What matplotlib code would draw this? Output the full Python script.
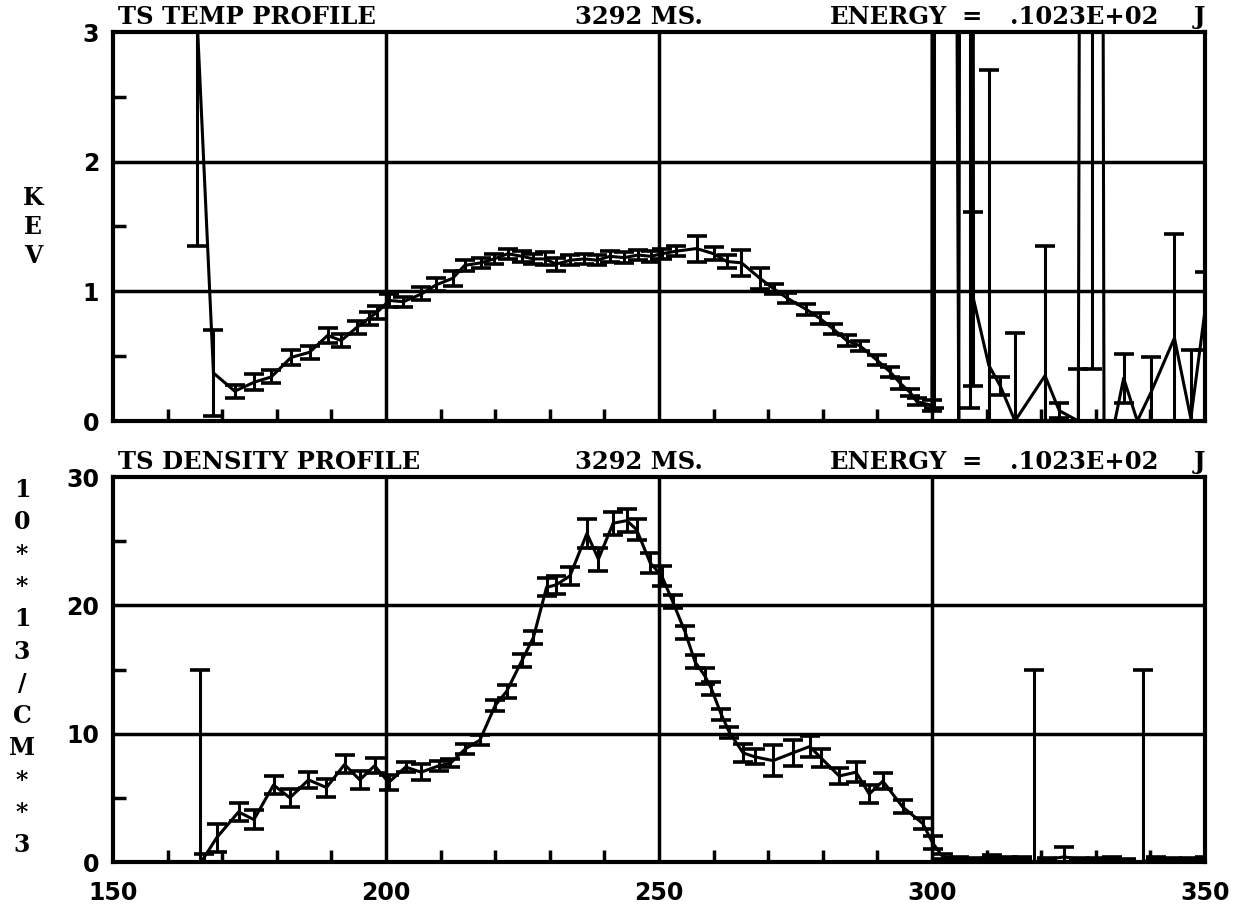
import numpy as np
import matplotlib
matplotlib.use("Agg")
import matplotlib.pyplot as plt

# --- Thomson scattering profiles, shot time 3292 ms ---------------------------
# electron temperature (keV): radius, value, error
temp_r = [165.3, 168.4, 172.3, 175.9, 179.0, 182.6, 186.0, 189.3, 191.8, 194.6,
          196.8, 198.4, 200.6, 203.2, 206.5, 209.2, 212.2, 214.4, 217.4, 219.8,
          222.3, 224.9, 227.0, 229.1, 231.2, 233.7, 236.3, 238.7, 241.0, 243.6,
          246.2, 248.5, 250.5, 253.2, 256.9, 260.0, 262.4, 265.1, 268.5, 271.0,
          273.4, 277.0, 279.5, 281.9, 284.4, 286.8, 289.9, 292.3, 294.2, 296.0,
          297.2, 300.0, 300.3, 304.9, 306.9, 307.6, 310.4, 312.5, 315.2, 320.7,
          323.3, 326.8, 329.3, 331.5, 333.5, 335.1, 337.6, 340.1, 344.4, 347.4,
          350.0]
temp_v = [3.20, 0.37, 0.23, 0.30, 0.34, 0.49, 0.53, 0.66, 0.62, 0.72,
          0.79, 0.84, 0.93, 0.92, 0.98, 1.05, 1.10, 1.20, 1.22, 1.25,
          1.29, 1.27, 1.25, 1.25, 1.21, 1.24, 1.25, 1.24, 1.27, 1.26,
          1.28, 1.27, 1.29, 1.31, 1.33, 1.29, 1.23, 1.22, 1.10, 1.02,
          0.95, 0.86, 0.79, 0.71, 0.62, 0.58, 0.47, 0.38, 0.29, 0.22,
          0.15, 0.12, 45.0, 0.00, 45.0, 0.94, 0.43, 0.27, 0.00, 0.35,
          0.08, 0.00, 45.0, 0.00, 0.00, 0.33, 0.00, 0.22, 0.64, 0.02,
          0.85]
temp_e = [1.85, 0.33, 0.05, 0.06, 0.05, 0.06, 0.05, 0.06, 0.05, 0.05,
          0.05, 0.05, 0.05, 0.04, 0.05, 0.05, 0.06, 0.04, 0.04, 0.04,
          0.04, 0.04, 0.04, 0.05, 0.05, 0.04, 0.04, 0.04, 0.04, 0.04,
          0.04, 0.04, 0.04, 0.04, 0.10, 0.05, 0.05, 0.10, 0.08, 0.04,
          0.04, 0.04, 0.04, 0.04, 0.04, 0.04, 0.04, 0.04, 0.04, 0.03,
          0.03, 0.04, 44.9, 0.00, 44.9, 0.67, 2.28, 0.07, 0.68, 1.00,
          0.06, 0.40, 44.6, 0.00, 0.00, 0.19, 0.00, 0.27, 0.80, 0.53,
          0.30]

# electron density (10**13 /cm**3): radius, value, error
dens_r = [165.9, 166.6, 169.0, 173.0, 175.8, 179.4, 182.4, 185.8, 189.1, 192.4,
          195.2, 197.9, 200.5, 203.6, 206.4, 209.7, 211.8, 214.5, 217.2, 220.0,
          222.1, 224.9, 227.0, 229.4, 231.2, 233.7, 236.8, 238.9, 241.6, 244.1,
          245.9, 248.4, 250.5, 252.5, 254.8, 256.6, 258.4, 259.6, 261.4, 262.9,
          265.4, 267.5, 270.9, 274.5, 277.6, 279.7, 283.0, 286.1, 288.5, 291.0,
          294.6, 298.3, 300.1, 302.0, 305.0, 308.0, 311.0, 314.0, 316.5, 318.6,
          321.0, 324.2, 327.0, 330.0, 333.0, 335.5, 338.6, 341.0, 344.0, 347.0,
          350.0]
dens_v = [0.0, 0.3, 1.9, 3.9, 3.3, 6.0, 5.0, 6.4, 5.8, 7.6,
          6.4, 7.5, 6.2, 7.4, 7.0, 7.5, 7.7, 8.8, 9.5, 12.2,
          13.3, 15.7, 17.5, 21.4, 21.6, 22.3, 25.6, 23.6, 26.4, 26.6,
          25.9, 23.3, 22.3, 20.3, 17.9, 15.6, 14.5, 13.5, 11.5, 10.1,
          8.5, 8.2, 7.9, 8.5, 9.0, 8.1, 6.7, 7.0, 5.3, 6.3,
          4.3, 3.0, 1.5, 0.4, 0.3, 0.25, 0.4, 0.3, 0.3, 0.0,
          0.2, 0.4, 0.2, 0.2, 0.3, 0.1, 0.0, 0.3, 0.2, 0.2,
          0.3]
dens_e = [15.0, 0.3, 1.1, 0.7, 0.75, 0.7, 0.7, 0.65, 0.7, 0.7,
          0.7, 0.6, 0.6, 0.4, 0.6, 0.4, 0.3, 0.4, 0.4, 0.4,
          0.5, 0.5, 0.5, 0.7, 0.7, 0.7, 1.1, 0.9, 0.9, 0.9,
          0.8, 0.8, 0.8, 0.5, 0.5, 0.5, 0.6, 0.5, 0.4, 0.4,
          0.7, 0.6, 1.2, 1.0, 0.8, 0.7, 0.6, 0.8, 0.7, 0.6,
          0.5, 0.4, 0.5, 0.2, 0.1, 0.1, 0.15, 0.1, 0.1, 15.0,
          0.1, 0.8, 0.1, 0.1, 0.1, 0.1, 15.0, 0.1, 0.1, 0.1,
          0.1]

x_ticks = [150, 200, 250, 300, 350]
x_minor = [r for r in range(160, 350, 10) if r % 50]

W, H = 1250, 913
TXT = dict(family="DejaVu Serif", fontweight="bold", color="k")
NUM = dict(family="DejaVu Sans", fontweight="bold", size=17)


def fx(px):
    return px / W


def fy(py):
    return 1 - py / H


def setup(ax, ymax, ystep, yminor):
    ax.set_xlim(150, 350)
    ax.set_ylim(0, ymax)
    for s in ax.spines.values():
        s.set_linewidth(3)
    ax.set_xticks(x_ticks)
    ax.set_xticks(x_minor, minor=True)
    ax.set_yticks(np.arange(0, ymax + ystep / 2, ystep))
    ax.set_yticks(yminor, minor=True)
    ax.tick_params(which="major", length=0, pad=10)
    ax.tick_params(which="minor", direction="in", length=9, width=2.5, color="k")
    for v in x_ticks[1:-1]:
        ax.axvline(v, color="k", lw=2.5, zorder=1)
    for v in np.arange(ystep, ymax, ystep):
        ax.axhline(v, color="k", lw=2.5, zorder=1)
    for lab in ax.get_yticklabels():
        lab.set(**NUM)


def profile(ax, r, v, e):
    ax.errorbar(r, v, yerr=e, color="k", lw=2.2, elinewidth=2.2,
                capsize=7, capthick=2.6, zorder=3)


def header(title, yb):
    # title line printed above each frame
    kw = dict(va="baseline", size=17.5, **TXT)
    fig.text(fx(118), fy(yb), title, ha="left", **kw)
    fig.text(fx(575), fy(yb), "3292 MS.", ha="left", **kw)
    fig.text(fx(830), fy(yb), "ENERGY", ha="left", **kw)
    fig.text(fx(972), fy(yb), "=", ha="center", **kw)
    fig.text(fx(1010), fy(yb), ".1023E+02", ha="left", **kw)
    fig.text(fx(1205), fy(yb), "J", ha="right", **kw)


fig = plt.figure(figsize=(W / 100, H / 100), dpi=100)
fig.patch.set_facecolor("white")

ax1 = fig.add_axes([fx(113), fy(421), fx(1205) - fx(113), fy(32) - fy(421)])
ax2 = fig.add_axes([fx(113), fy(862), fx(1205) - fx(113), fy(477) - fy(862)])

# temperature panel
setup(ax1, 3, 1, [0.5, 1.5, 2.5])
ax1.set_xticklabels([])
profile(ax1, temp_r, temp_v, temp_e)
header("TS TEMP PROFILE", 24)
for i, ch in enumerate("KEV"):
    fig.text(fx(33), fy(198 + 29 * i), ch, ha="center", va="center", size=17, **TXT)

# density panel
setup(ax2, 30, 10, [5, 15, 25])
ax2.set_xticklabels([str(t) for t in x_ticks])
for lab in ax2.get_xticklabels():
    lab.set(**NUM)
ax2.tick_params(axis="x", which="major", pad=14)
profile(ax2, dens_r, dens_v, dens_e)
header("TS DENSITY PROFILE", 469)
for i, ch in enumerate("10**13/CM**3"):
    fig.text(fx(22), fy(490 + 32.3 * i), ch, ha="center", va="center", size=17, **TXT)

fig.savefig("out.png", dpi=100, facecolor="white")
